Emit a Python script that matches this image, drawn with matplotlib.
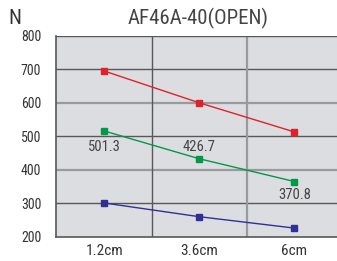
import matplotlib
matplotlib.use("Agg")
import matplotlib.pyplot as plt
from matplotlib import font_manager

categories = ["1.2cm", "3.6cm", "6cm"]
red_vals = [695, 600, 513]
green_vals = [516, 433, 365]
blue_vals = [301, 260, 226]
green_labels = ["501.3", "426.7", "370.8"]
yticks = [200, 300, 400, 500, 600, 700, 800]
title = "AF46A-40(OPEN)"

avail = {f.name for f in font_manager.fontManager.ttflist}
fam = [f for f in ["Liberation Sans Narrow", "Roboto Condensed", "Roboto", "DejaVu Sans"] if f in avail]
plt.rcParams['font.family'] = fam

W, H = 337, 261
fig = plt.figure(figsize=(W / 100, H / 100), dpi=100)
left, right, bottom, top = 56.5, 342, 236.8, 35.8
ax = fig.add_axes([left / W, 1 - bottom / H, (right - left) / W, (bottom - top) / H])
ax.set_facecolor("#dcdde0")

x = list(range(len(categories)))
ax.set_xlim(-0.5, 2.5)
ax.set_ylim(200, 800)

# grid
for yv in yticks[1:-1]:
    if yv in (400, 600):
        ax.axhline(yv, color="#9a9a9c", lw=1.6, zorder=1)
    else:
        ax.axhline(yv, color="#58585a", lw=1.0, zorder=1)
ax.axvline(0.5, color="#58585a", lw=1.0, zorder=1)
ax.axvline(1.5, color="#9a9a9c", lw=1.6, zorder=1)
ax.axhline(800, color="#58585a", lw=1.0, zorder=1)

for s in ["top", "right"]:
    ax.spines[s].set_visible(False)
for s in ["left", "bottom"]:
    ax.spines[s].set_color("#58585a")
    ax.spines[s].set_linewidth(1.2)

ax.plot(x, red_vals, color="#e0202a", lw=1.0, marker="s", ms=4.5, zorder=3)
ax.plot(x, green_vals, color="#00994a", lw=1.0, marker="s", ms=4.5, zorder=3)
ax.plot(x, blue_vals, color="#2e3192", lw=1.0, marker="s", ms=4.5, zorder=3)

offsets = [-11.5, 8.8, -9.8]
for xi, v, lab, off in zip(x, green_vals, green_labels, offsets):
    ax.annotate(lab, (xi, v), xytext=(0, off), textcoords="offset points",
                ha="center", va="center", fontsize=10.5, color="#444444")

ax.set_xticks(x)
ax.set_xticklabels(categories, fontsize=11, color="#333333")
ax.set_yticks(yticks)
ax.set_yticklabels([str(v) for v in yticks], fontsize=10, color="#333333")
ax.tick_params(axis="y", length=0, pad=11)
ax.tick_params(axis="x", length=0, pad=5)

fig.text(198 / W, 1 - 18 / H, title, ha="center", va="center", fontsize=15, color="#444444")
fig.text(15 / W, 1 - 19 / H, "N", ha="center", va="center", fontsize=15, color="#333333")

fig.savefig("out.png", dpi=100)
